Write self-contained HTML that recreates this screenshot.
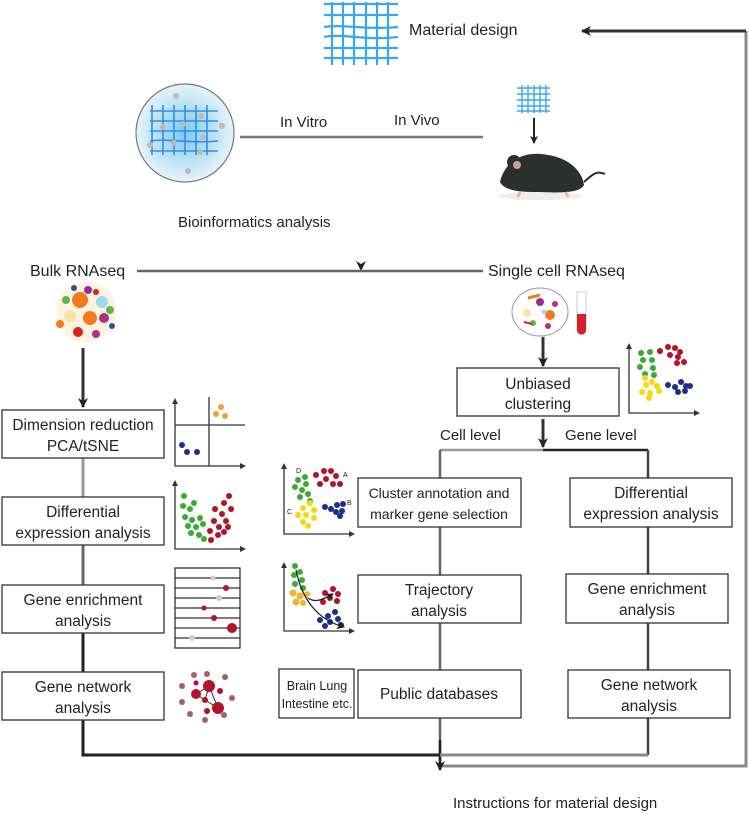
<!DOCTYPE html>
<html><head><meta charset="utf-8"><style>
html,body{margin:0;padding:0;background:#fff;}
svg{display:block;font-family:"Liberation Sans",Arial,sans-serif;}
</style></head><body>
<svg width="749" height="814" viewBox="0 0 749 814" xmlns="http://www.w3.org/2000/svg">
<defs>
<marker id="ah" markerWidth="10" markerHeight="10" refX="9" refY="5" orient="auto" markerUnits="userSpaceOnUse"><path d="M0,0 L10,5 L0,10 L3,5 Z" fill="#222"/></marker>
<marker id="sa" markerWidth="8" markerHeight="8" refX="7" refY="4" orient="auto" markerUnits="userSpaceOnUse"><path d="M0,0 L8,4 L0,8 L2,4 Z" fill="#222"/></marker>
<radialGradient id="pg" cx="0.5" cy="0.5" r="0.5"><stop offset="0" stop-color="#7cc8f0"/><stop offset="1" stop-color="#e6f4fb"/></radialGradient>
<linearGradient id="gv" x1="0" y1="0" x2="0" y2="1"><stop offset="0" stop-color="#999"/><stop offset="1" stop-color="#222"/></linearGradient>
</defs>

<!-- top mesh -->
<g stroke="#3aa6ec" stroke-width="2.2" fill="none">
<path d="M332,2v63M343,2v63M354,2v63M366,2v63M377,2v63M388,2v63"/>
<path d="M324,4h74M324,15h74M324,27c20,-3 40,3 74,0M324,37c20,-4 40,4 74,0M324,48h74M324,58h74"/>
</g>
<text x="409" y="35" font-size="16" fill="#222">Material design</text>

<!-- return loop -->
<path d="M746,31 V766 H440" stroke="#888" stroke-width="3" fill="none"/>
<path d="M746,31 H582" stroke="#333" stroke-width="3" fill="none" marker-end="url(#ah)"/>

<!-- main vertical -->
<line x1="361" y1="73" x2="361" y2="270" stroke="url(#gv)" stroke-width="3" marker-end="url(#ah)"/>
<line x1="240" y1="137" x2="483" y2="137" stroke="#777" stroke-width="2.5"/>
<text x="280" y="127" font-size="15" fill="#222">In Vitro</text>
<text x="394" y="125" font-size="15" fill="#222">In Vivo</text>

<!-- petri -->
<circle cx="185" cy="133" r="49" fill="url(#pg)" stroke="#777" stroke-width="1.2"/>
<g stroke="#2f8fe6" stroke-width="1.6" fill="none">
<path d="M152,105v50M163,105v50M174,105v50M185,105v50M196,105v50M207,105v50"/>
<path d="M150,111h68M150,121h68M150,131h68M150,141c20,-3 40,3 68,0M150,151h68"/>
</g>
<g fill="#c9b8a8"><circle cx="176" cy="96" r="3"/><circle cx="201" cy="116" r="3"/><circle cx="183" cy="124" r="3"/><circle cx="222" cy="126" r="3"/><circle cx="150" cy="145" r="3"/><circle cx="174" cy="143" r="3"/><circle cx="200" cy="152" r="3"/><circle cx="188" cy="171" r="3"/><circle cx="163" cy="127" r="3"/><circle cx="203" cy="137" r="3"/></g>

<!-- small mesh + mouse -->
<g stroke="#3aa6ec" stroke-width="1.4" fill="none">
<path d="M522,85v28M528,85v28M534,85v28M540,85v28M546,85v28"/>
<path d="M517,88h33M517,94h33M517,100h33M517,106h33M517,111h33"/>
</g>
<line x1="534" y1="118" x2="534" y2="143" stroke="#222" stroke-width="2" marker-end="url(#sa)"/>
<ellipse cx="540" cy="196" rx="42" ry="4" fill="#eee"/>
<path d="M500,182 C505,160 525,150 548,155 C568,158 582,170 584,185 C580,193 560,193 540,192 C525,192 505,192 500,182 Z" fill="#2d2f2e"/>
<circle cx="514" cy="162" r="7" fill="#2d2f2e"/><circle cx="517" cy="165" r="4" fill="#c9a0a0"/>
<path d="M584,182 C592,175 596,170 605,174" stroke="#2d2f2e" stroke-width="2" fill="none"/>
<path d="M520,192 l-2,5 M566,192 l2,5" stroke="#e9b6a8" stroke-width="3"/>

<text x="178" y="227" font-size="15" fill="#222">Bioinformatics analysis</text>

<!-- bulk/single split -->
<line x1="137" y1="271" x2="483" y2="271" stroke="#666" stroke-width="2.5"/>
<text x="30" y="276" font-size="16" fill="#222">Bulk RNAseq</text>
<text x="488" y="276" font-size="16" fill="#222">Single cell RNAseq</text>

<!-- bulk cell cluster -->
<g>
<circle cx="86" cy="312" r="30" fill="#fdf3e0"/>
<circle cx="80" cy="300" r="8" fill="#f47a20"/><circle cx="90" cy="318" r="7" fill="#f47a20"/>
<circle cx="70" cy="316" r="6" fill="#f9e3a8"/><circle cx="102" cy="302" r="6" fill="#a0d8f0"/>
<circle cx="104" cy="318" r="5" fill="#b03080"/><circle cx="66" cy="300" r="4" fill="#57b947"/>
<circle cx="78" cy="332" r="5" fill="#e0201d"/><circle cx="96" cy="334" r="4" fill="#b03080"/>
<circle cx="110" cy="310" r="4" fill="#57b947"/><circle cx="60" cy="324" r="4" fill="#f47a20"/>
<circle cx="88" cy="290" r="4" fill="#9c2c8f"/><circle cx="74" cy="288" r="3" fill="#2d4fa0"/>
<circle cx="96" cy="292" r="3" fill="#e0201d"/><circle cx="112" cy="326" r="3" fill="#2d4fa0"/>
</g>
<line x1="83" y1="348" x2="83" y2="407" stroke="#333" stroke-width="3" marker-end="url(#ah)"/>

<!-- sc bubble -->
<ellipse cx="540" cy="312" rx="28" ry="24" fill="#fff" stroke="#999" stroke-width="1"/>
<g>
<circle cx="527" cy="313" r="4" fill="#f9e3a8"/><circle cx="550" cy="315" r="5" fill="#f47a20"/>
<circle cx="540" cy="302" r="4" fill="#9c2c8f"/><circle cx="533" cy="323" r="3" fill="#57b947"/>
<circle cx="555" cy="304" r="3" fill="#b03080"/><circle cx="544" cy="312" r="2.5" fill="#a0d8f0"/>
<path d="M528,298 l12,-3" stroke="#f47a20" stroke-width="3"/>
<path d="M524,322 l8,2" stroke="#e0201d" stroke-width="2"/>
<circle cx="548" cy="326" r="3" fill="#b03080"/>
</g>
<path d="M577,292 h9 v38 a4.5,4.5 0 0 1 -9,0 Z" fill="#fff" stroke="#ccc"/>
<path d="M577,314 h9 v16 a4.5,4.5 0 0 1 -9,0 Z" fill="#d3202a"/>
<line x1="543" y1="337" x2="543" y2="366" stroke="#333" stroke-width="3" marker-end="url(#ah)"/>

<!-- unbiased clustering -->
<rect x="457" y="368" width="162" height="48" fill="#fff" stroke="#333" stroke-width="1.3"/>
<text x="538" y="389" font-size="15.5" text-anchor="middle" fill="#222">Unbiased</text>
<text x="538" y="409" font-size="15.5" text-anchor="middle" fill="#222">clustering</text>

<!-- top right scatter -->
<path d="M629,346 V413 H697" stroke="#333" stroke-width="1.3" fill="none"/>
<path d="M629,343 l-3,6 h6z M700,413 l-6,-3 v6z" fill="#333"/>
<g fill="#3aaa35"><circle cx="641" cy="353" r="3"/><circle cx="650" cy="352" r="3"/><circle cx="643" cy="360" r="3"/><circle cx="652" cy="360" r="3"/><circle cx="640" cy="367" r="3"/><circle cx="645" cy="374" r="3"/><circle cx="653" cy="368" r="3"/><circle cx="654" cy="375" r="3"/></g>
<g fill="#b0132a"><circle cx="660" cy="351" r="3"/><circle cx="668" cy="347" r="3"/><circle cx="675" cy="348" r="3"/><circle cx="680" cy="352" r="3"/><circle cx="670" cy="355" r="3"/><circle cx="678" cy="357" r="3"/><circle cx="684" cy="362" r="3"/><circle cx="677" cy="363" r="3"/></g>
<g fill="#f5d90a"><circle cx="645" cy="378" r="3"/><circle cx="652" cy="382" r="3"/><circle cx="646" cy="385" r="3"/><circle cx="657" cy="386" r="3"/><circle cx="642" cy="392" r="3"/><circle cx="650" cy="393" r="3"/><circle cx="659" cy="391" r="3"/><circle cx="649" cy="398" r="3"/></g>
<g fill="#1b2f8f"><circle cx="668" cy="385" r="3"/><circle cx="675" cy="387" r="3"/><circle cx="681" cy="382" r="3"/><circle cx="686" cy="386" r="3"/><circle cx="678" cy="392" r="3"/><circle cx="685" cy="391" r="3"/><circle cx="690" cy="386" r="3"/></g>

<!-- cell/gene split -->
<line x1="543" y1="419" x2="543" y2="447" stroke="#333" stroke-width="3" marker-end="url(#ah)"/>
<text x="440" y="440" font-size="15" fill="#222">Cell level</text>
<text x="565" y="440" font-size="15" fill="#222">Gene level</text>
<path d="M440,450 H543" stroke="#999" stroke-width="2.5" fill="none"/>
<path d="M543,450 H648" stroke="#222" stroke-width="2.5" fill="none"/>

<!-- cell-level vertical -->
<line x1="440" y1="450" x2="440" y2="766" stroke="#666" stroke-width="2.5"/>
<line x1="440" y1="740" x2="440" y2="770" stroke="#222" stroke-width="2.5" marker-end="url(#ah)"/>
<!-- gene-level vertical & bottom loop -->
<path d="M648,450 V755" stroke="#444" stroke-width="2.5" fill="none"/>
<path d="M83,458 V755 H648" stroke="#222" stroke-width="3" fill="none"/>
<path d="M83,458 V497" stroke="#999" stroke-width="3"/>
<path d="M83,545 V585" stroke="#666" stroke-width="3"/>
<path d="M440,755 H648" stroke="#888" stroke-width="3"/>

<!-- left boxes -->
<g fill="#fff" stroke="#333" stroke-width="1.3">
<rect x="2" y="410" width="162" height="48"/>
<rect x="2" y="497" width="162" height="48"/>
<rect x="2" y="585" width="162" height="48"/>
<rect x="2" y="672" width="162" height="48"/>
<rect x="358" y="478" width="163" height="49"/>
<rect x="358" y="575" width="163" height="48"/>
<rect x="358" y="670" width="163" height="48"/>
<rect x="570" y="478" width="162" height="49"/>
<rect x="566" y="574" width="162" height="49"/>
<rect x="568" y="670" width="162" height="48"/>
<rect x="279" y="669" width="75" height="49"/>
</g>
<g font-size="15.5" fill="#222" text-anchor="middle">
<text x="83" y="430">Dimension reduction</text>
<text x="83" y="451">PCA/tSNE</text>
<text x="83" y="517">Differential</text>
<text x="83" y="538">expression analysis</text>
<text x="83" y="605">Gene enrichment</text>
<text x="83" y="626">analysis</text>
<text x="83" y="692">Gene network</text>
<text x="83" y="713">analysis</text>
<text x="439" y="498" font-size="14">Cluster annotation and</text>
<text x="439" y="519" font-size="14">marker gene selection</text>
<text x="439" y="595">Trajectory</text>
<text x="439" y="616">analysis</text>
<text x="439" y="699">Public databases</text>
<text x="651" y="498">Differential</text>
<text x="651" y="519">expression analysis</text>
<text x="647" y="594">Gene enrichment</text>
<text x="647" y="615">analysis</text>
<text x="649" y="690">Gene network</text>
<text x="649" y="711">analysis</text>
<text x="317" y="690" font-size="12.5">Brain Lung</text>
<text x="317" y="708" font-size="12.5">Intestine etc.</text>
</g>

<!-- PCA plot -->
<path d="M175,402 V466 H242 M209,397 V466 M175,425 H245" stroke="#333" stroke-width="1.3" fill="none"/>
<path d="M175,398 l-3,6 h6z M246,466 l-6,-3 v6z" fill="#333"/>
<g fill="#f5a030"><circle cx="221" cy="407" r="3"/><circle cx="216" cy="414" r="3"/><circle cx="225" cy="416" r="3"/></g>
<g fill="#1b2f8f"><circle cx="182" cy="445" r="3"/><circle cx="187" cy="452" r="3"/><circle cx="197" cy="452" r="3"/></g>

<!-- diff scatter -->
<path d="M175,484 V549 H242" stroke="#333" stroke-width="1.3" fill="none"/>
<path d="M175,480 l-3,6 h6z M246,549 l-6,-3 v6z" fill="#333"/>
<g fill="#3aaa35"><circle cx="184" cy="496" r="3"/><circle cx="183" cy="506" r="3"/><circle cx="190" cy="509" r="3"/><circle cx="194" cy="503" r="3"/><circle cx="185" cy="517" r="3"/><circle cx="192" cy="520" r="3"/><circle cx="200" cy="518" r="3"/><circle cx="188" cy="526" r="3"/><circle cx="196" cy="527" r="3"/><circle cx="203" cy="524" r="3"/><circle cx="191" cy="533" r="3"/><circle cx="199" cy="535" r="3"/><circle cx="204" cy="539" r="3"/></g>
<g fill="#b0132a"><circle cx="229" cy="496" r="3"/><circle cx="224" cy="503" r="3"/><circle cx="231" cy="509" r="3"/><circle cx="215" cy="509" r="3"/><circle cx="222" cy="514" r="3"/><circle cx="214" cy="521" r="3"/><circle cx="226" cy="521" r="3"/><circle cx="219" cy="527" r="3"/><circle cx="228" cy="527" r="3"/><circle cx="210" cy="531" r="3"/><circle cx="218" cy="535" r="3"/><circle cx="224" cy="532" r="3"/><circle cx="211" cy="540" r="3"/></g>

<!-- bars -->
<rect x="175" y="568" width="65" height="80" fill="#fff" stroke="#333" stroke-width="1.3"/>
<path d="M175,578h65M175,588h65M175,598h65M175,608h65M175,618h65M175,628h65M175,638h65" stroke="#333" stroke-width="1.2"/>
<circle cx="213" cy="578" r="2.5" fill="#ccc"/><circle cx="226" cy="588" r="3" fill="#b0132a"/>
<circle cx="219" cy="598" r="3" fill="#ccc"/><circle cx="204" cy="608" r="2.5" fill="#b0132a"/>
<circle cx="214" cy="618" r="3" fill="#b0132a"/><circle cx="232" cy="628" r="5" fill="#b0132a"/>
<circle cx="192" cy="638" r="3" fill="#ccc"/>

<!-- network -->
<path d="M196,694 L209,686 L218,708 L205,700 Z M209,686 L205,700" stroke="#333" stroke-width="1" fill="none"/>
<g fill="#a06070"><circle cx="194" cy="675" r="3"/><circle cx="207" cy="674" r="3"/><circle cx="225" cy="677" r="3"/><circle cx="182" cy="686" r="3"/><circle cx="182" cy="702" r="3"/><circle cx="232" cy="698" r="3"/><circle cx="190" cy="714" r="3"/><circle cx="205" cy="720" r="3"/><circle cx="224" cy="715" r="3"/></g>
<g fill="#b0132a"><circle cx="196" cy="694" r="5"/><circle cx="209" cy="686" r="6"/><circle cx="220" cy="691" r="3"/><circle cx="205" cy="700" r="3"/><circle cx="218" cy="708" r="6"/><circle cx="207" cy="711" r="3"/><circle cx="196" cy="683" r="2.5"/></g>

<!-- cluster scatter -->
<path d="M284,467 V534 H351" stroke="#333" stroke-width="1.3" fill="none"/>
<path d="M284,463 l-3,6 h6z M355,534 l-6,-3 v6z" fill="#333"/>
<g font-size="7" fill="#222"><text x="296" y="473">D</text><text x="343" y="477">A</text><text x="287" y="514">C</text><text x="347" y="505">B</text></g>
<g fill="#3aaa35"><circle cx="298" cy="480" r="3"/><circle cx="305" cy="477" r="3"/><circle cx="306" cy="484" r="3"/><circle cx="295" cy="487" r="3"/><circle cx="302" cy="490" r="3"/><circle cx="300" cy="497" r="3"/><circle cx="308" cy="494" r="3"/><circle cx="310" cy="501" r="3"/></g>
<g fill="#b0132a"><circle cx="316" cy="475" r="3"/><circle cx="324" cy="471" r="3"/><circle cx="331" cy="471" r="3"/><circle cx="336" cy="476" r="3"/><circle cx="326" cy="479" r="3"/><circle cx="333" cy="484" r="3"/><circle cx="340" cy="484" r="3"/><circle cx="320" cy="484" r="3"/></g>
<g fill="#f5d90a"><circle cx="303" cy="508" r="3"/><circle cx="310" cy="503" r="3"/><circle cx="314" cy="510" r="3"/><circle cx="298" cy="515" r="3"/><circle cx="306" cy="515" r="3"/><circle cx="314" cy="518" r="3"/><circle cx="303" cy="522" r="3"/><circle cx="308" cy="526" r="3"/></g>
<g fill="#1b2f8f"><circle cx="325" cy="507" r="3"/><circle cx="331" cy="509" r="3"/><circle cx="337" cy="505" r="3"/><circle cx="343" cy="504" r="3"/><circle cx="336" cy="512" r="3"/><circle cx="342" cy="511" r="3"/><circle cx="340" cy="516" r="3"/></g>

<!-- trajectory -->
<path d="M284,566 V631 H351" stroke="#333" stroke-width="1.3" fill="none"/>
<path d="M284,562 l-3,6 h6z M355,631 l-6,-3 v6z" fill="#333"/>
<g fill="#3aaa35"><circle cx="295" cy="566" r="3"/><circle cx="300" cy="572" r="3"/><circle cx="294" cy="575" r="3"/><circle cx="302" cy="580" r="3"/><circle cx="295" cy="584" r="3"/><circle cx="303" cy="588" r="3"/></g>
<g fill="#f5b030"><circle cx="293" cy="593" r="3.5"/><circle cx="300" cy="596" r="3.5"/><circle cx="307" cy="594" r="3"/><circle cx="296" cy="602" r="3.5"/><circle cx="303" cy="603" r="3"/></g>
<g fill="#b0132a"><circle cx="325" cy="593" r="3"/><circle cx="333" cy="589" r="3"/><circle cx="338" cy="594" r="3"/><circle cx="330" cy="598" r="3"/><circle cx="337" cy="601" r="3"/><circle cx="323" cy="602" r="3"/></g>
<g fill="#1b2f8f"><circle cx="320" cy="620" r="3"/><circle cx="328" cy="616" r="3"/><circle cx="335" cy="612" r="3"/><circle cx="330" cy="622" r="3"/><circle cx="338" cy="619" r="3"/><circle cx="341" cy="625" r="3"/><circle cx="325" cy="626" r="3"/></g>
<path d="M296,570 C302,600 318,620 344,627" stroke="#222" stroke-width="1.3" fill="none" marker-end="url(#sa)"/>
<path d="M308,598 C315,603 322,600 333,594" stroke="#222" stroke-width="1.3" fill="none" marker-end="url(#sa)"/>

<text x="453" y="808" font-size="15" fill="#222">Instructions for material design</text>
</svg>
</body></html>
